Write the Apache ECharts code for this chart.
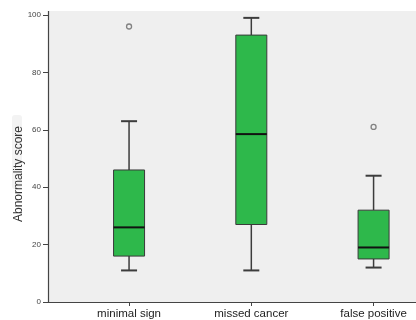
<!DOCTYPE html>
<html>
<head>
<meta charset="utf-8">
<script src="https://cdn.jsdelivr.net/npm/echarts@6/dist/echarts.min.js"></script>
<style>
html,body{margin:0;padding:0;background:#fff;}
#c{width:416px;height:320px;}
</style>
</head>
<body>
<div id="c"></div>
<script>
const categories = ['minimal sign', 'missed cancer', 'false positive'];
const whiskerLow = [11, 11, 12];
const q1 = [16, 27, 15];
const median = [26, 58.5, 19];
const q3 = [46, 93, 32];
const whiskerHigh = [63, 99, 44];
const outlierCategory = [0, 2];
const outlierValue = [96, 61];
const yTicks = [0, 20, 40, 60, 80, 100];

const boxData = categories.map((c, i) => [i + 1, whiskerLow[i], q1[i], median[i], q3[i], whiskerHigh[i]]);
const outlierData = outlierCategory.map((ci, k) => [ci + 1, outlierValue[k]]);

const chart = echarts.init(document.getElementById('c'), null, {renderer: 'canvas'});
const FONT = '"Liberation Sans", Arial, sans-serif';

function renderBox(params, api) {
  const x = api.value(0);
  const pLow = api.coord([x, api.value(1)]);
  const pQ1 = api.coord([x, api.value(2)]);
  const pMed = api.coord([x, api.value(3)]);
  const pQ3 = api.coord([x, api.value(4)]);
  const pHigh = api.coord([x, api.value(5)]);
  const cx = pLow[0];
  const hw = 15.5, cap = 8;
  const lineStyle = {stroke: '#3c3c3c', lineWidth: 1.5};
  return {
    type: 'group',
    children: [
      {type: 'line', shape: {x1: cx, y1: pQ3[1], x2: cx, y2: pHigh[1]}, style: lineStyle},
      {type: 'line', shape: {x1: cx, y1: pLow[1], x2: cx, y2: pQ1[1]}, style: lineStyle},
      {type: 'line', shape: {x1: cx - cap, y1: pHigh[1], x2: cx + cap, y2: pHigh[1]}, style: {stroke: '#3c3c3c', lineWidth: 2}},
      {type: 'line', shape: {x1: cx - cap, y1: pLow[1], x2: cx + cap, y2: pLow[1]}, style: {stroke: '#3c3c3c', lineWidth: 2}},
      {type: 'rect', shape: {x: cx - hw, y: pQ3[1], width: hw * 2, height: pQ1[1] - pQ3[1]},
        style: {fill: '#2eb84b', stroke: '#3a3a3a', lineWidth: 1}},
      {type: 'line', shape: {x1: cx - hw, y1: pMed[1], x2: cx + hw, y2: pMed[1]}, style: {stroke: '#111', lineWidth: 2}}
    ]
  };
}

chart.setOption({
  animation: false,
  grid: {left: 48, right: 0, top: 15, bottom: 18},
  graphic: [
    {type: 'rect', z: -10, shape: {x: 48, y: 11, width: 368, height: 291}, style: {fill: '#efefef'}},
    {type: 'line', z: 5, shape: {x1: 48.5, y1: 11, x2: 48.5, y2: 15}, style: {stroke: '#444', lineWidth: 1.2}},
    {type: 'rect', z: -10, shape: {x: 12, y: 115, width: 10, height: 74, r: 3}, style: {fill: '#f3f3f3'}},
    {type: 'text', z: 5, x: 19, y: 174, rotation: Math.PI / 2,
      style: {text: 'Abnormality score', fontSize: 12, fontFamily: FONT, fill: '#333', align: 'center', verticalAlign: 'middle'}}
  ],
  xAxis: {
    type: 'value', min: 0.337, max: 3.347,
    splitLine: {show: false},
    axisLine: {show: true, lineStyle: {color: '#444', width: 1.2}},
    axisTick: {show: true, length: 4, customValues: categories.map((c, i) => i + 1), lineStyle: {color: '#444'}},
    axisLabel: {customValues: categories.map((c, i) => i + 1), formatter: v => categories[Math.round(v) - 1] || '',
      fontSize: 11.5, fontFamily: FONT, color: '#222', margin: 6}
  },
  yAxis: {
    type: 'value', min: 0, max: 100, interval: 20,
    splitLine: {show: false},
    axisLine: {show: true, lineStyle: {color: '#444', width: 1.2}},
    axisTick: {show: true, length: 5, lineStyle: {color: '#444'}},
    axisLabel: {fontSize: 8, fontFamily: FONT, color: '#444', margin: 7,
      formatter: v => yTicks.indexOf(v) >= 0 ? String(v) : ''}
  },
  series: [
    {type: 'custom', renderItem: renderBox, data: boxData, encode: {x: 0, y: [1, 2, 3, 4, 5]}, clip: false},
    {type: 'scatter', data: outlierData, symbol: 'circle', symbolSize: 5,
      itemStyle: {color: 'rgba(0,0,0,0)', borderColor: '#666', borderWidth: 1.3}}
  ]
});
</script>
</body>
</html>
